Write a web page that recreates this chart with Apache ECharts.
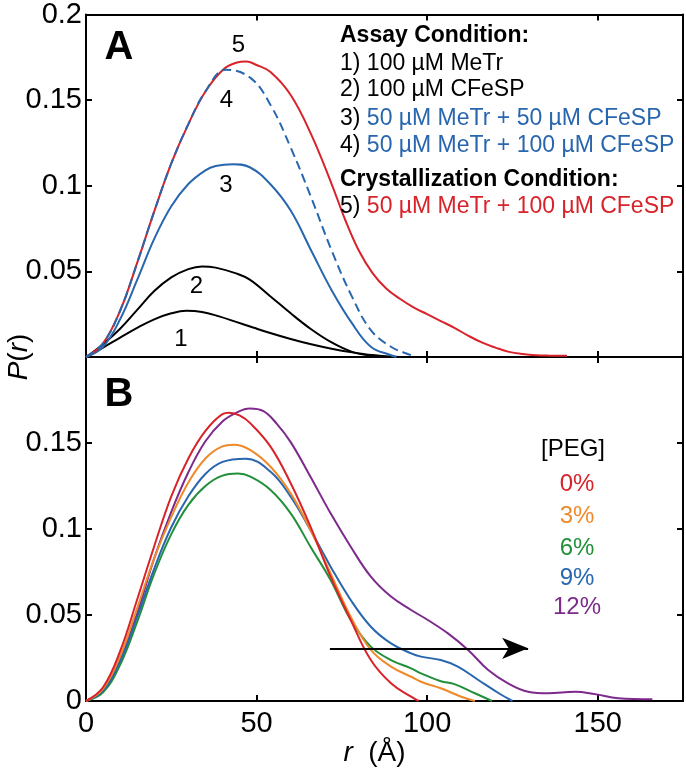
<!DOCTYPE html>
<html>
<head>
<meta charset="utf-8">
<script src="https://cdn.jsdelivr.net/npm/echarts@6/dist/echarts.min.js"></script>
<style>
html,body{margin:0;padding:0;background:#fff;}
#main{width:686px;height:773px;}
</style>
</head>
<body>
<div id="main"></div>
<script>
// ---------- Data (r in Å, P(r)) ----------
// Panel A
const rA1 = [0,5,10,15,20,25,29.4,34,39,44,49,54,60,66,72,78,84,90,95];
const pA1 = [0,0.0055,0.0113,0.017,0.022,0.0255,0.027,0.0263,0.0237,0.0205,0.0172,0.014,0.0105,0.0074,0.0048,0.0027,0.0011,0.0002,0];
const rA2 = [0,5,10,15,20,25,30,34,38,44,48,54,60,66,72,78,84,88];
const pA2 = [0,0.0075,0.0165,0.0275,0.0385,0.0465,0.0513,0.0529,0.0522,0.0488,0.0452,0.0355,0.0255,0.0162,0.0085,0.003,0.0006,0];
const rA3 = [0,5,10,15,20,25,30,35,38,43,48,54,60,66,72,78,83.5,89.4,91];
const pA3 = [0,0.006,0.022,0.045,0.069,0.088,0.101,0.109,0.1115,0.1126,0.1108,0.101,0.0855,0.0622,0.039,0.0196,0.006,0.001,0];
const rA4 = [0,5,10,15,20,25,30,35,41,48.2,54,60,66,72,78,83.5,89.4,95.3,96.5];
const pA4 = [0,0.008,0.027,0.055,0.085,0.113,0.136,0.155,0.1678,0.163,0.1475,0.1223,0.0932,0.0622,0.0351,0.0157,0.006,0.001,0];
const rA5 = [0,5,10,15,20,25,30,35,40,44,47,50,54,60,66,72,76,80,84,88,92,96,100,104,108,112,116,120,124,128,132,136,141];
const pA5 = [0,0.008,0.027,0.055,0.085,0.113,0.136,0.155,0.1675,0.1718,0.1725,0.1705,0.1665,0.153,0.13,0.101,0.08,0.062,0.049,0.04,0.034,0.029,0.025,0.021,0.017,0.0125,0.0085,0.0055,0.003,0.0017,0.001,0.0008,0.0007];
// Panel B ([PEG])
const rB0 = [0,5,10,15,20,25,30,35,40,42,45,48.2,54.1,60,65.8,71.7,77.6,83.5,89.4,95.3,97.5];
const pB0 = [0,0.008,0.029,0.059,0.09,0.119,0.141,0.157,0.1668,0.1676,0.166,0.1614,0.1479,0.1266,0.1014,0.0723,0.0471,0.0238,0.0103,0.0025,0];
const rB3 = [0,5,10,15,20,25,30,35,40,43.3,48.2,54.1,60,65.8,71.7,77.6,83.5,89.4,95.3,98.2,104,110,114];
const pB3 = [0,0.007,0.026,0.054,0.083,0.107,0.127,0.141,0.148,0.149,0.1459,0.1362,0.1207,0.0994,0.0742,0.049,0.0297,0.02,0.0141,0.0112,0.0074,0.0025,0];
const rB6 = [0,5,10,15,20,25,30,35,40,44.5,48.2,54.1,60,65.8,71.7,77.6,83.5,89.4,95.3,98.2,104,108,114,119];
const pB6 = [0,0.005,0.021,0.046,0.074,0.097,0.114,0.125,0.131,0.1322,0.1304,0.1227,0.1091,0.0897,0.0703,0.0471,0.0316,0.0238,0.019,0.0161,0.0115,0.0098,0.0045,0];
const rB9 = [0,5,10,15,20,25,30,35,40,46.8,54.1,60,65.8,71.7,77.6,83.5,89.4,95.3,98.2,104,109,115,121,125];
const pB9 = [0,0.006,0.023,0.049,0.077,0.101,0.119,0.132,0.139,0.1409,0.1333,0.1188,0.0994,0.0781,0.0587,0.0432,0.0335,0.0277,0.0258,0.0238,0.02,0.0122,0.0045,0];
const rB12 = [0,5,10,15,20,25,30,35,40,44,48,52,56,60,65.8,71.7,77.6,83.5,89.4,95.3,100.2,106.1,112,117.9,123.7,129.6,135.5,143.3,149.2,156,166];
const pB12 = [0,0.006,0.024,0.051,0.083,0.11,0.133,0.151,0.1625,0.1675,0.17,0.1685,0.161,0.1505,0.1304,0.1091,0.0897,0.0723,0.0607,0.0529,0.0471,0.0393,0.0297,0.018,0.0103,0.0054,0.0045,0.0054,0.004,0.0016,0.001];
// Arrow in panel B (data coordinates)
const arrowFrom = [71.5, 0.0306];
const arrowTo = [129.6, 0.0306];
// Tick labels
const xTickLabels = ['0','50','100','150'];
const yTickLabelsA = ['0.05','0.1','0.15','0.2'];
const yTickLabelsB = ['0','0.05','0.1','0.15'];
// Text
const legendA = [
  ['', 'Assay Condition:', 'bold'],
  ['1) ', '100 µM MeTr', 'k'],
  ['2) ', '100 µM CFeSP', 'k'],
  ['3) ', '50 µM MeTr + 50 µM CFeSP', 'b'],
  ['4) ', '50 µM MeTr + 100 µM CFeSP', 'b'],
  ['', 'Crystallization Condition:', 'bold'],
  ['5) ', '50 µM MeTr + 100 µM CFeSP', 'r']
];
const pegLabels = ['0%','3%','6%','9%','12%'];

// ---------- Styles ----------
const FONT = "'Liberation Sans', Arial, Helvetica, sans-serif";
const C = {k:'#000000', r:'#d8232a', b:'#2866ae', o:'#ef8a2a', g:'#22903a', p:'#7d2a8c'};
const pegColors = [C.r, C.o, C.g, C.b, C.p];

const pairs = (r, p) => r.map((x, i) => [x, p[i]]);
const fmt = list => v => { const s = String(+(+v).toFixed(3)); return list.includes(s) ? s : ''; };

const XMAX = 175;
const G0 = {left: 86, top: 13, width: 597, height: 344};
const G1 = {left: 86, top: 357, width: 597, height: 344};

const axLine = {show: true, onZero: false, lineStyle: {color: '#000', width: 2}};
const tick = {show: true, inside: true, length: 6, lineStyle: {color: '#000', width: 2}};
const lbl = (show, list, extra) => Object.assign({show: show, color: '#000', fontFamily: FONT, fontSize: 29, formatter: list ? fmt(list) : null}, extra || {});

function xAx(grid, pos, showLabels) {
  return {
    type: 'value', gridIndex: grid, position: pos, min: 0, max: XMAX, interval: 50,
    axisLine: axLine, axisTick: tick, splitLine: {show: false},
    axisLabel: lbl(showLabels, xTickLabels, {margin: 8, showMaxLabel: false})
  };
}
function yAx(grid, pos, showLabels, list) {
  return {
    type: 'value', gridIndex: grid, position: pos, min: 0, max: 0.2, interval: 0.05,
    axisLine: axLine, axisTick: tick, splitLine: {show: false},
    axisLabel: lbl(showLabels, list, {margin: 4})
  };
}

const xAxes = [xAx(0,'bottom',false), xAx(0,'top',false), xAx(1,'bottom',true), xAx(1,'top',false)];
xAxes[2].name = '{i|r}  (Å)';
xAxes[2].nameLocation = 'middle';
xAxes[2].nameGap = 27;
xAxes[2].nameTextStyle = {color:'#000', fontFamily: FONT, fontSize: 28, padding: [0, 20, 0, 0],
  rich: {i: {fontStyle: 'italic', fontFamily: FONT, fontSize: 28, color: '#000'}}};
const yAxes = [yAx(0,'left',true,yTickLabelsA), yAx(0,'right',false,null), yAx(1,'left',true,yTickLabelsB), yAx(1,'right',false,null)];

function line(r, p, color, grid, dashed) {
  return {
    type: 'line', xAxisIndex: grid === 0 ? 0 : 2, yAxisIndex: grid === 0 ? 0 : 2,
    data: pairs(r, p), smooth: 0.4, showSymbol: false, symbol: 'none', silent: true,
    lineStyle: {color: color, width: 2, type: dashed ? [9, 5] : 'solid'}
  };
}

const series = [
  line(rA1, pA1, C.k, 0),
  line(rA2, pA2, C.k, 0),
  line(rA3, pA3, C.b, 0),
  line(rA5, pA5, C.r, 0),
  line(rA4, pA4, C.b, 0, true),
  line(rB12, pB12, C.p, 1),
  line(rB6, pB6, C.g, 1),
  line(rB9, pB9, C.b, 1),
  line(rB3, pB3, C.o, 1),
  line(rB0, pB0, C.r, 1)
];
series[series.length - 1].markLine = {
  silent: true, symbol: ['none', 'arrow'], symbolSize: [16, 26],
  label: {show: false},
  lineStyle: {color: '#000', width: 2, type: 'solid'},
  data: [[{coord: arrowFrom}, {coord: arrowTo}]]
};

// ---------- Annotations ----------
const graphics = [];
function txt(x, y, text, font, fill, align, rich) {
  graphics.push({type: 'text', x: x, y: y, z: 100, silent: true,
    style: {text: text, font: font, fill: fill || '#000', align: align || 'center', verticalAlign: 'middle', rich: rich}});
}
txt(119, 48, 'A', `bold 40px ${FONT}`);
txt(119, 395, 'B', `bold 40px ${FONT}`);
const numPos = [[181, 339], [196.5, 286], [226, 185.5], [226.5, 100], [238.5, 45]];
numPos.forEach((p, i) => txt(p[0], p[1], String(i + 1), `24px ${FONT}`));

const legY = [35.7, 63.3, 90, 118.3, 146, 180, 206.7];
legendA.forEach((row, i) => {
  const f = `23px ${FONT}`;
  const rich = {
    k: {fill: C.k, font: f},
    bold: {fill: C.k, font: `bold 23px ${FONT}`},
    b: {fill: C.b, font: f},
    r: {fill: C.r, font: f}
  };
  const t = (row[0] ? `{k|${row[0]}}` : '') + `{${row[2]}|${row[1]}}`;
  txt(340, legY[i], t, f, '#000', 'left', rich);
});

txt(573, 449.3, '[PEG]', `24px ${FONT}`);
const pegY = [484.3, 516, 548.3, 578.7, 607.7];
pegLabels.forEach((s, i) => txt(577, pegY[i], s, `24px ${FONT}`, pegColors[i]));

// Y axis title P(r)
graphics.push({type: 'text', x: 19, y: 357, rotation: Math.PI / 2, z: 100, silent: true,
  style: {text: '{i|P}({i|r})', font: `28px ${FONT}`, fill: '#000', align: 'center', verticalAlign: 'middle',
    rich: {i: {font: `italic 28px ${FONT}`, fill: '#000'}}}});

const chart = echarts.init(document.getElementById('main'), null, {renderer: 'canvas'});
chart.setOption({
  animation: false,
  backgroundColor: '#fff',
  grid: [G0, G1],
  xAxis: xAxes,
  yAxis: yAxes,
  series: series,
  graphic: graphics
});
</script>
</body>
</html>
